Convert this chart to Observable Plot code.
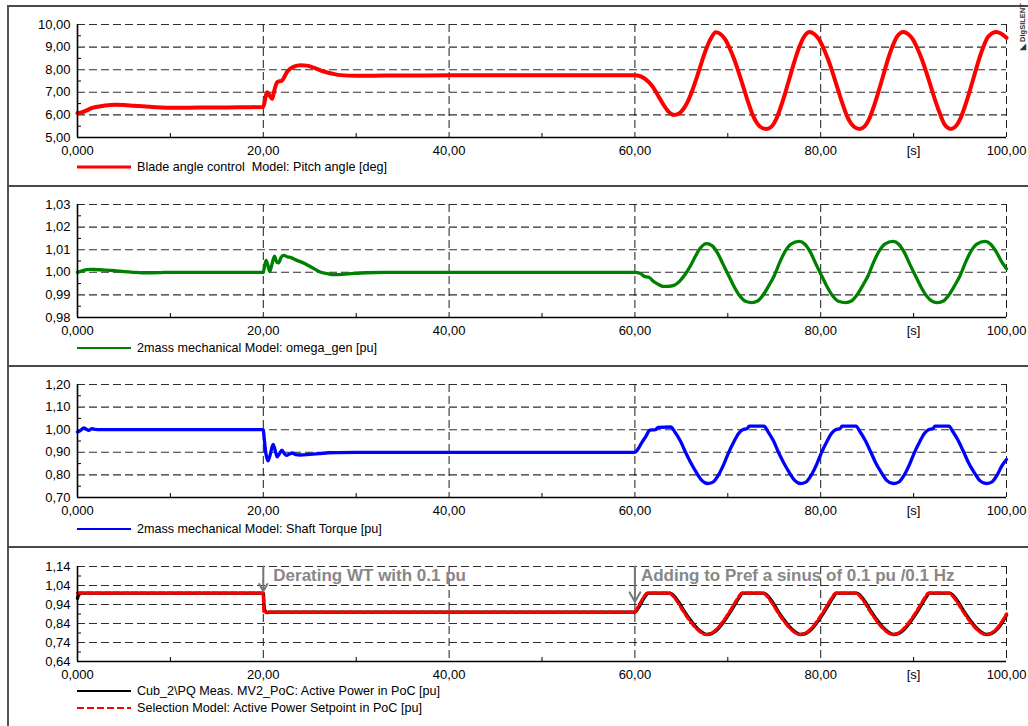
<!DOCTYPE html>
<html>
<head>
<meta charset="utf-8">
<script src="https://cdn.jsdelivr.net/npm/d3@7"></script>
<script src="https://cdn.jsdelivr.net/npm/@observablehq/plot@0.6"></script>
<style>
  html, body { margin: 0; padding: 0; background: #fff; }
  #page { position: relative; width: 1028px; height: 726px; overflow: hidden; background: #fff;
          font-family: "Liberation Sans", Arial, sans-serif; }
  .hline { position: absolute; left: 7px; right: 0; height: 2px; background: #4a4a4a; }
  .vline { position: absolute; left: 7px; top: 5px; bottom: 0; width: 1.5px; background: #555; }
  .plot { position: absolute; left: 0; }
  .legend { position: absolute; left: 77px; height: 16px; display: flex; align-items: center;
            font-size: 12.6px; color: #000; white-space: pre; }
  .legend svg { margin-right: 6px; }
  .brand { position: absolute; left: 1003px; top: 25px; width: 40px; height: 10px; font-size: 7.5px; font-weight: bold;
           color: #333; transform: rotate(-90deg); transform-origin: 50% 50%; white-space: nowrap; line-height: 10px; }
</style>
</head>
<body>
<div id="page">
  <div class="vline"></div>
  <div class="hline" style="top:5px"></div>
  <div class="hline" style="top:185px"></div>
  <div class="hline" style="top:365px"></div>
  <div class="hline" style="top:546px"></div>
  <div class="brand">◣ DIgSILENT</div>
</div>
<script>
// ---- shared time axis (seconds) ----
const xTicks = [0, 20, 40, 60, 80, 100];
const xTickLabels = ["0,000", "20,00", "40,00", "60,00", "80,00", "100,00"];
const xMinorTicks = [10, 30, 50, 70, 90];
const xUnitTicks = [90];
const xUnitLabel = "[s]";

// ---- y ticks per panel ----
const pitchTicks = [5, 6, 7, 8, 9, 10];
const pitchMinor = [5.5, 6.5, 7.5, 8.5, 9.5];
const omegaTicks = [0.98, 0.99, 1.00, 1.01, 1.02, 1.03];
const omegaMinor = [0.985, 0.995, 1.005, 1.015, 1.025];
const torqueTicks = [0.70, 0.80, 0.90, 1.00, 1.10, 1.20];
const torqueMinor = [0.75, 0.85, 0.95, 1.05, 1.15];
const powerTicks = [0.64, 0.74, 0.84, 0.94, 1.04, 1.14];
const powerMinor = [0.69, 0.79, 0.89, 0.99, 1.09];

// ---- legend texts ----
const pitchLabel = "Blade angle control  Model: Pitch angle [deg]";
const omegaLabel = "2mass mechanical Model: omega_gen [pu]";
const torqueLabel = "2mass mechanical Model: Shaft Torque [pu]";
const powerLabel = "Cub_2\\PQ Meas. MV2_PoC: Active Power in PoC [pu]";
const setpointLabel = "Selection Model: Active Power Setpoint in PoC [pu]";

// ---- series: [time s, value] ----
const pitch = [
  [0,6.08],[0.5,6.12],[1,6.2],[1.5,6.3],[2,6.35],[3,6.42],[4,6.45],[5,6.44],[6,6.41],[7,6.38],[8,6.35],
  [9,6.33],[10,6.32],[12,6.32],[14,6.33],[16,6.33],[18,6.34],[20,6.35],[20.2,6.7],[20.4,7.0],[20.7,6.85],
  [20.95,6.71],[21.2,7.1],[21.5,7.45],[22,7.52],[22.6,7.93],[23.3,8.14],[24,8.2],[24.7,8.18],[25.5,8.08],
  [26.5,7.92],[27.5,7.82],[28.3,7.76],[30,7.73],[33,7.74],[40,7.75],[50,7.75],[60,7.75],
  [60.5,7.72],[61,7.62],[61.5,7.45],[62,7.2],[62.5,6.85],[63,6.5],[63.5,6.2],[64.2,6.0],
  [64.7,6.05],[65.2,6.25],[65.7,6.6],[66.2,7.1],[66.7,7.7],[67.2,8.35],[67.7,8.95],[68.2,9.4],[68.7,9.66],
  [69.2,9.58],[69.7,9.35],[70.2,8.95],[70.7,8.45],[71.2,7.85],[71.7,7.2],[72.2,6.55],[72.7,5.98],[73.2,5.6],[73.7,5.42],[74.2,5.38],
  [74.7,5.48],[75.2,5.8],[75.7,6.35],[76.2,7.0],[76.7,7.7],[77.2,8.4],[77.7,9.0],[78.2,9.45],[78.8,9.67],
  [79.3,9.58],[79.8,9.35],[80.3,8.95],[80.8,8.45],[81.3,7.85],[81.8,7.2],[82.3,6.55],[82.8,5.98],[83.3,5.6],[83.8,5.42],[84.2,5.38],
  [84.7,5.48],[85.2,5.8],[85.7,6.35],[86.2,7.0],[86.7,7.7],[87.2,8.4],[87.7,9.0],[88.2,9.45],[88.9,9.67],
  [89.4,9.58],[89.9,9.35],[90.4,8.95],[90.9,8.45],[91.4,7.85],[91.9,7.2],[92.4,6.55],[92.9,5.98],[93.3,5.6],[93.6,5.45],[94.0,5.38],
  [94.5,5.48],[95,5.8],[95.5,6.35],[96,7.0],[96.5,7.7],[97,8.4],[97.5,9.0],[98,9.45],[98.9,9.67],[99.4,9.6],[100,9.41]
];

const omega = [
  [0,1.0],[0.5,1.0006],[1,1.0012],[1.5,1.0013],[2,1.0012],[3,1.001],[4,1.0007],[5,1.0003],[6,1.0],[7,0.9998],
  [8,0.9998],[9,0.9999],[10,1.0],[20,1.0],[20.15,1.003],[20.3,1.0053],[20.5,1.003],[20.7,1.0003],[20.9,1.003],
  [21.2,1.0071],[21.45,1.0045],[21.65,1.0042],[21.9,1.0065],[22.2,1.0075],[22.6,1.0068],[22.9,1.0066],[23.5,1.0055],
  [24.5,1.0038],[25.5,1.0015],[26.2,1.0],[27,0.9993],[27.6,0.999],[28.5,0.9991],[29.5,0.9994],[31,0.9998],[33,1.0],[60,1.0],
  [60.6,0.9995],[61,0.9982],[61.5,0.9978],[62,0.996],[62.6,0.9945],[63,0.9938],[63.6,0.9938],[64.2,0.9942],[64.8,0.996],
  [65.4,0.999],[66,1.003],[66.5,1.007],[67,1.0105],[67.7,1.0127],
  [68.3,1.0118],[68.9,1.0085],[69.5,1.0035],[70.1,0.9985],[70.7,0.9935],[71.3,0.9895],[71.9,0.9872],[72.6,0.9866],
  [73.2,0.9873],[73.8,0.99],[74.4,0.994],[75,0.9985],[75.6,1.0045],[76.2,1.0095],[76.8,1.0125],[77.7,1.0137],
  [78.3,1.0124],[78.9,1.0088],[79.5,1.0035],[80.1,0.9985],[80.7,0.9935],[81.3,0.9895],[81.9,0.9872],[82.7,0.9866],
  [83.3,0.9873],[83.9,0.99],[84.5,0.994],[85.1,0.9985],[85.7,1.0045],[86.3,1.0095],[86.9,1.0125],[87.8,1.0137],
  [88.4,1.0124],[89,1.0088],[89.6,1.0035],[90.2,0.9985],[90.8,0.9935],[91.4,0.9895],[92,0.9872],[92.6,0.9866],
  [93.2,0.9873],[93.8,0.99],[94.4,0.994],[95,0.9985],[95.6,1.0045],[96.2,1.0095],[96.8,1.0125],[97.7,1.0137],
  [98.3,1.0124],[98.9,1.009],[99.5,1.0045],[100,1.0016]
];

const torque = [
  [0,0.99],[0.3,0.996],[0.68,1.008],[0.95,1.002],[1.2,0.997],[1.57,1.005],[1.9,1.001],[2.5,1.0],[20,1.0],
  [20.1,0.96],[20.3,0.89],[20.5,0.862],[20.75,0.89],[21.05,0.935],[21.3,0.905],[21.5,0.88],[21.75,0.895],[22.0,0.909],
  [22.25,0.895],[22.5,0.886],[22.8,0.892],[23.1,0.897],[23.5,0.89],[24,0.888],[25,0.891],[26,0.894],[27,0.898],[28,0.899],[30,0.9],[60,0.9],
  [60.3,0.912],[60.7,0.94],[61.2,0.972],[61.6,0.998],[62.2,1.0],[62.5,1.01],[63.85,1.012],
  [64.3,0.99],[64.9,0.95],[65.45,0.9],[66,0.855],[66.6,0.812],[67.2,0.776],[67.8,0.762],
  [68.4,0.768],[69,0.8],[69.6,0.85],[70.1,0.9],[70.7,0.95],[71.2,0.985],[71.6,1.0],[72.1,1.005],[72.3,1.016],[73.9,1.016],
  [74.3,0.993],[74.9,0.952],[75.45,0.9],[76,0.855],[76.6,0.812],[77.2,0.776],[77.8,0.762],
  [78.4,0.768],[79,0.8],[79.6,0.85],[80.1,0.9],[80.7,0.95],[81.2,0.985],[81.6,1.0],[82.1,1.005],[82.3,1.016],[83.8,1.016],
  [84.2,0.993],[84.8,0.952],[85.4,0.9],[85.9,0.855],[86.5,0.812],[87.1,0.776],[87.8,0.762],
  [88.4,0.768],[89,0.8],[89.6,0.85],[90.1,0.9],[90.7,0.95],[91.2,0.985],[91.6,1.0],[92.1,1.005],[92.3,1.016],[93.8,1.016],
  [94.2,0.993],[94.8,0.952],[95.4,0.9],[95.9,0.855],[96.5,0.812],[97.1,0.776],[97.8,0.762],
  [98.4,0.768],[99,0.8],[99.5,0.84],[100,0.868]
];

const activePower = [
  [0,0.972],[0.1,0.99],[0.2,1.0],[20,1.0],[20.08,0.93],[20.2,0.905],[20.4,0.897],[20.7,0.9],[60,0.9],
  [60.4,0.925],[60.7,0.95],[61.1,0.983],[61.4,1.0],[63.8,1.0],
  [64.2,0.985],[64.7,0.953],[65.3,0.905],[65.9,0.862],[66.5,0.825],[67.1,0.797],[67.7,0.782],
  [68.3,0.788],[68.9,0.81],[69.5,0.845],[70.1,0.888],[70.7,0.935],[71.2,0.975],[71.6,1.0],[73.9,1.0],
  [74.3,0.985],[74.8,0.953],[75.4,0.905],[76,0.862],[76.6,0.825],[77.2,0.797],[77.8,0.782],
  [78.4,0.788],[79,0.81],[79.6,0.845],[80.2,0.888],[80.8,0.935],[81.3,0.975],[81.7,1.0],[83.9,1.0],
  [84.3,0.985],[84.8,0.953],[85.4,0.905],[86,0.862],[86.6,0.825],[87.2,0.797],[87.8,0.782],
  [88.4,0.788],[89,0.81],[89.6,0.845],[90.2,0.888],[90.8,0.935],[91.3,0.975],[91.7,1.0],[93.9,1.0],
  [94.3,0.985],[94.8,0.953],[95.4,0.905],[96,0.862],[96.6,0.825],[97.2,0.797],[97.8,0.782],
  [98.4,0.788],[99,0.81],[99.6,0.85],[100,0.885]
];

const setpoint = [
  [0,1.0],[20,1.0],[20.05,0.9],[60,0.9],
  [60.3,0.925],[60.6,0.95],[61,0.983],[61.3,1.0],[63.7,1.0],
  [64.1,0.985],[64.6,0.953],[65.2,0.905],[65.8,0.862],[66.4,0.825],[67,0.797],[67.6,0.782],
  [68.2,0.788],[68.8,0.81],[69.4,0.845],[70,0.888],[70.6,0.935],[71.1,0.975],[71.5,1.0],[73.8,1.0],
  [74.2,0.985],[74.7,0.953],[75.3,0.905],[75.9,0.862],[76.5,0.825],[77.1,0.797],[77.7,0.782],
  [78.3,0.788],[78.9,0.81],[79.5,0.845],[80.1,0.888],[80.7,0.935],[81.2,0.975],[81.6,1.0],[83.8,1.0],
  [84.2,0.985],[84.7,0.953],[85.3,0.905],[85.9,0.862],[86.5,0.825],[87.1,0.797],[87.7,0.782],
  [88.3,0.788],[88.9,0.81],[89.5,0.845],[90.1,0.888],[90.7,0.935],[91.2,0.975],[91.6,1.0],[93.8,1.0],
  [94.2,0.985],[94.7,0.953],[95.3,0.905],[95.9,0.862],[96.5,0.825],[97.1,0.797],[97.7,0.782],
  [98.3,0.788],[98.9,0.81],[99.5,0.85],[100,0.89]
];

// ---- event annotations in the power panel ----
const events = [
  {t: 20, tip: 1.01, text: "Derating WT with 0.1 pu"},
  {t: 60, tip: 0.955, text: "Adding to Pref a sinus of 0.1 pu /0.1 Hz"}
];

// ---- drawing ----
const page = document.getElementById("page");
const fmtY = d => d.toFixed(2).replace(".", ",");
const fmtX = d => xTickLabels[xTicks.indexOf(d)];
const T = d => d[0], V = d => d[1];

function panel({top, marginTop, plotHeight, yTicks, yMinor, lines, extra = []}) {
  const lo = yTicks[0], hi = yTicks[yTicks.length - 1];
  const marginBottom = 28;
  const svg = Plot.plot({
    width: 1028,
    height: marginTop + plotHeight + marginBottom,
    marginLeft: 77, marginRight: 22, marginTop, marginBottom,
    x: {domain: [0, 100]},
    y: {domain: [lo, hi]},
    style: {fontFamily: "'Liberation Sans', Arial, sans-serif", fontSize: "13px", color: "#000",
            background: "transparent", overflow: "visible"},
    marks: [
      Plot.ruleY(yTicks.slice(1), {stroke: "#2e2e2e", strokeWidth: 1.1, strokeDasharray: "8,4"}),
      Plot.ruleX(xTicks.slice(1), {stroke: "#1a1a1a", strokeWidth: 1, strokeDasharray: "8,4"}),
      Plot.axisY(yMinor, {anchor: "left", tickSize: 4, dx: 4, tickFormat: () => "", label: null, stroke: "#000"}),
      Plot.axisX(xMinorTicks, {anchor: "bottom", tickSize: 4, dy: -4, tickFormat: () => "", label: null, stroke: "#000"}),
      Plot.axisY(yTicks, {anchor: "left", tickSize: 0, tickPadding: 7, tickFormat: fmtY, label: null}),
      Plot.axisX(xTicks, {anchor: "bottom", tickSize: 0, tickPadding: 8, tickFormat: fmtX, label: null}),
      Plot.axisX(xUnitTicks, {anchor: "bottom", tickSize: 0, tickPadding: 8, tickFormat: () => xUnitLabel, label: null}),
      ...lines.map(s => Plot.line(s.data, {x: T, y: V, stroke: s.stroke, strokeWidth: s.width,
                                            strokeDasharray: s.dash, curve: "monotone-x"})),
      Plot.ruleX([0], {stroke: "#000", strokeWidth: 1.6}),
      Plot.ruleY([lo], {stroke: "#000", strokeWidth: 1.6}),
      ...extra
    ]
  });
  svg.classList.add("plot");
  svg.style.top = top + "px";
  page.appendChild(svg);
}

function legend(centerY, label, stroke, width, dash) {
  const div = document.createElement("div");
  div.className = "legend";
  div.style.top = (centerY - 8) + "px";
  div.innerHTML = `<svg width="54" height="16"><line x1="0" x2="54" y1="8" y2="8" stroke="${stroke}" stroke-width="${width}"${dash ? ` stroke-dasharray="${dash}"` : ""}/></svg>`;
  const span = document.createElement("span");
  span.textContent = label;
  div.appendChild(span);
  page.appendChild(div);
}

panel({top: 6, marginTop: 18, plotHeight: 113, yTicks: pitchTicks, yMinor: pitchMinor,
       lines: [{data: pitch, stroke: "#ff0000", width: 4}]});
legend(167, pitchLabel, "#ff0000", 3);

panel({top: 186, marginTop: 18, plotHeight: 113, yTicks: omegaTicks, yMinor: omegaMinor,
       lines: [{data: omega, stroke: "#008000", width: 3.3}]});
legend(348, omegaLabel, "#008000", 2);

panel({top: 366, marginTop: 18, plotHeight: 113, yTicks: torqueTicks, yMinor: torqueMinor,
       lines: [{data: torque, stroke: "#0000ff", width: 3.3}]});
legend(529, torqueLabel, "#0000ff", 2);

const pTop = powerTicks[powerTicks.length - 1];
panel({top: 547, marginTop: 19, plotHeight: 95, yTicks: powerTicks, yMinor: powerMinor,
       lines: [
         {data: activePower, stroke: "#000000", width: 3.4},
         {data: setpoint, stroke: "#ff0000", width: 3.2, dash: "6,3"}
       ],
       extra: [
         Plot.arrow(events, {x1: "t", x2: "t", y1: () => pTop, y2: "tip", stroke: "#777", strokeWidth: 2, headLength: 8}),
         Plot.text([events[0]], {x: "t", y: () => pTop, text: "text", dx: 10, dy: 9, textAnchor: "start",
                                 fontWeight: "bold", fontSize: 17, fill: "#878787"}),
         Plot.text([events[1]], {x: "t", y: () => pTop, text: "text", dx: 6, dy: 9, textAnchor: "start",
                                 fontWeight: "bold", fontSize: 17, fill: "#878787"})
       ]});
legend(690.7, powerLabel, "#000000", 2);
legend(708.3, setpointLabel, "#ff0000", 2, "7,3");
</script>
</body>
</html>
